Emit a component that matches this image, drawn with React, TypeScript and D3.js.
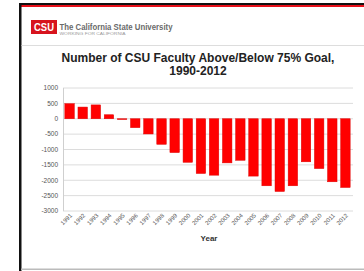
import * as d3 from "d3";
import React from "react";

const years = [
  "1991", "1992", "1993", "1994", "1995", "1996", "1997", "1998", "1999", "2000", "2001",
  "2002", "2003", "2004", "2005", "2006", "2007", "2008", "2009", "2010", "2011", "2012",
];
const aboveBelow = [
  490, 380, 450, 130, -20, -290, -495, -830, -1100, -1415, -1780,
  -1835, -1435, -1350, -1865, -2180, -2365, -2180, -1400, -1620, -2050, -2235,
];
const yTicks = [1000, 500, 0, -500, -1000, -1500, -2000, -2500, -3000];

const W = 364;
const H = 271;

function App() {
  const x = d3.scaleBand().domain(years).range([63, 352]).paddingInner(0.28).paddingOuter(0.14);
  const y = d3.scaleLinear().domain([-3000, 1000]).range([211, 88]);
  const font = "'Liberation Sans', Arial, sans-serif";

  return (
    <div style={{ position: "fixed", left: 0, top: 0 }}>
      <svg width={W} height={H} style={{ display: "block", background: "#fff" }}>
        {/* frame */}
        <rect x={19} y={3} width={W - 19} height={2} fill="#111" />
        <rect x={19} y={5} width={W - 19} height={2} fill="#e8101a" />
        <rect x={19} y={3} width={2.5} height={H - 3} fill="#111" />
        <rect x={21} y={268.5} width={W - 21} height={1.5} fill="#bbb" />

        {/* logo */}
        <rect x={31} y={20} width={26} height={14} fill="#d7141e" />
        <text x={44} y={31} textAnchor="middle" fill="#fff" fontFamily={font} fontWeight="bold" fontSize={10} textLength={20} lengthAdjust="spacingAndGlyphs">CSU</text>
        <text x={59.5} y={30} fill="#6a6a6a" fontFamily={font} fontWeight={600} fontSize={9} textLength={113} lengthAdjust="spacingAndGlyphs">The California State University</text>
        <text x={59.5} y={35} fill="#999" fontFamily={font} fontSize={3.6} textLength={66} lengthAdjust="spacingAndGlyphs">WORKING FOR CALIFORNIA</text>
        <rect x={21.5} y={45} width={W - 21.5} height={1} fill="#ddd" />

        {/* title */}
        <text x={198} y={62} textAnchor="middle" fontFamily={font} fontWeight="bold" fontSize={12} fill="#222">
          Number of CSU Faculty Above/Below 75% Goal,
        </text>
        <text x={198} y={75} textAnchor="middle" fontFamily={font} fontWeight="bold" fontSize={12} fill="#222">
          1990-2012
        </text>

        {/* grid & y axis */}
        {yTicks.map((t) => (
          <g key={t}>
            <line x1={63} x2={353} y1={y(t)} y2={y(t)} stroke="#dcdcdc" strokeWidth={1} />
            <text x={58} y={y(t)} dy="0.35em" textAnchor="end" fontFamily={font} fontSize={6.5} fill="#555">
              {t}
            </text>
          </g>
        ))}
        <line x1={63.5} x2={63.5} y1={y(1000)} y2={y(-3000)} stroke="#cfcfcf" />

        {/* bars */}
        {years.map((yr, i) => {
          const v = aboveBelow[i];
          const y0 = y(Math.max(0, v));
          const y1 = y(Math.min(0, v));
          return (
            <rect
              key={yr}
              x={x(yr)}
              y={y0}
              width={x.bandwidth()}
              height={Math.max(0.8, y1 - y0)}
              fill="#ff0000"
              stroke="#e00000"
              strokeWidth={0.5}
            />
          );
        })}

        {/* x labels */}
        {years.map((yr) => {
          const cx = (x(yr) as number) + x.bandwidth() / 2 + 3;
          return (
            <text
              key={yr}
              transform={`translate(${cx},216) rotate(-45)`}
              textAnchor="end"
              fontFamily={font}
              fontSize={6}
              fill="#555"
            >
              {yr}
            </text>
          );
        })}
        <text x={209} y={241} textAnchor="middle" fontFamily={font} fontWeight="bold" fontSize={8} fill="#333">
          Year
        </text>
      </svg>
    </div>
  );
}

export default App;
